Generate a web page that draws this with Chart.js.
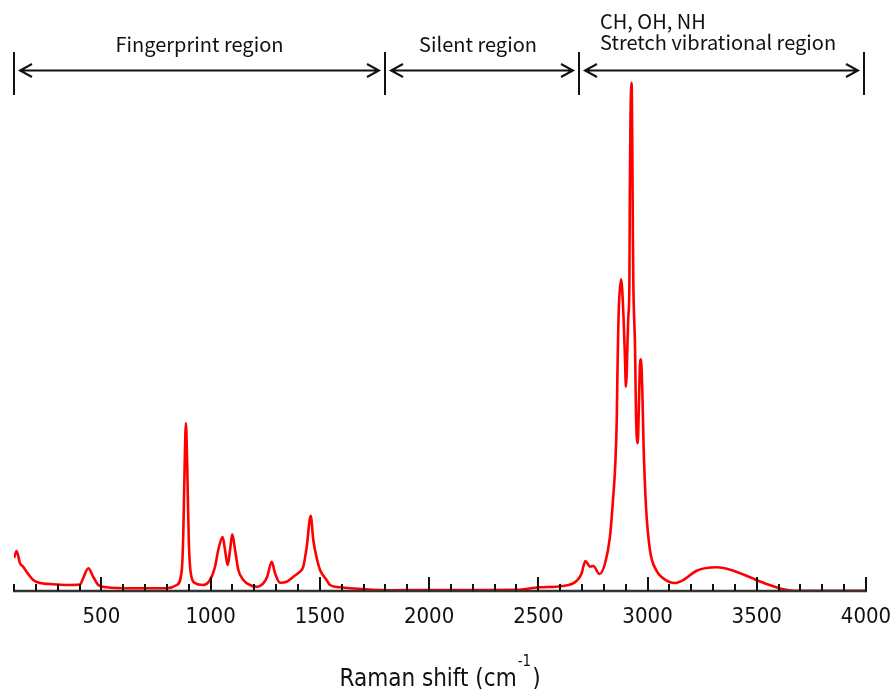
<!DOCTYPE html>
<html>
<head>
<meta charset="utf-8">
<script src="https://cdn.jsdelivr.net/npm/chart.js@4.4.1/dist/chart.umd.min.js"></script>
<style>
  html, body { margin: 0; padding: 0; background: #ffffff; }
  #wrap { width: 892px; height: 689px; position: relative; }
</style>
</head>
<body>
<div id="wrap"><canvas id="c" width="892" height="689"></canvas></div>
<script>
// Raman shift (cm-1) sample positions
const ramanShift = [
  100, 112, 127, 143, 158, 188, 219, 265, 341, 402, 417, 440, 463, 486, 524, 645, 799,
  845, 868, 875, 881, 887, 893, 900, 909, 928, 967, 997, 1020, 1035, 1055, 1066, 1078,
  1089, 1099, 1112, 1127, 1150, 1180, 1211, 1241, 1259, 1280, 1295, 1318, 1348, 1379,
  1409, 1424, 1440, 1458, 1470, 1486, 1501, 1531, 1546, 1592, 1638, 1821, 2000, 2200,
  2400, 2508, 2613, 2676, 2699, 2706, 2716, 2737, 2752, 2780, 2806, 2828, 2843, 2852,
  2859, 2862, 2866, 2870, 2879, 2890, 2897, 2901, 2912, 2917, 2919, 2922, 2927, 2930,
  2933, 2935, 2943, 2947, 2955, 2961, 2965, 2970, 2976, 2982, 2993, 3011, 3042, 3070,
  3100, 3125, 3164, 3225, 3317, 3393, 3469, 3545, 3622, 3666, 3800, 4000
];
// Raman intensity (arbitrary units) at each shift
const intensity = [
  33, 40, 28, 24, 19, 11, 8, 7, 6, 6.5, 13, 22.7, 14, 6, 3.7, 2.7, 2.7,
  6, 21, 58, 124, 168, 124, 51, 18, 8, 6, 11, 24, 41, 54, 41, 26,
  41, 56.7, 41, 21, 11, 6, 4.3, 7.7, 14.3, 29.3, 17.7, 8.3, 9.3, 14.3,
  19.3, 24.3, 44.3, 75.3, 51, 32.7, 21, 11, 6, 3.7, 2.7, 0.8, 1, 1,
  1.2, 3.7, 5, 10.3, 18, 24.3, 30, 24.3, 25, 17, 28, 54.3, 94.3, 125,
  170, 215, 262, 290, 311.7, 274.3, 231, 204.3, 274, 307.7, 401, 474, 508.3, 451,
  354, 307.7, 241, 178, 147.7, 191, 224.3, 231.7, 201, 144.3, 84.3, 41, 20, 13,
  9, 8, 11, 20.3, 23.7, 20.3, 13.7, 7, 1.7, 0.3, 0.3, 0.3
];
// x axis
const xMin = 100, xMax = 4000, tickStep = 100, labelStep = 500;
// region annotation boundaries (cm-1) and labels
const regionBounds = [100, 1800, 2685, 3990];
const regionLabels = [["Fingerprint region"], ["Silent region"], ["CH, OH, NH", "Stretch vibrational region"]];
const axisTitle = "Raman shift (cm";
const axisTitleSup = "-1";
const axisTitleEnd = ")";

const tickFont = "'DejaVu Sans Condensed', 'DejaVu Sans', sans-serif";
const noteFont = "'Noto Sans CJK JP', 'Noto Sans', sans-serif";

const points = ramanShift.map((v, i) => ({ x: v, y: intensity[i] }));

const decorPlugin = {
  id: 'decor',
  afterDraw(chart) {
    const ctx = chart.ctx;
    const xs = chart.scales.x;
    const area = chart.chartArea;
    const yAxis = area.bottom;
    ctx.save();
    // axis line
    ctx.strokeStyle = '#333333';
    ctx.lineWidth = 2.6;
    ctx.beginPath();
    ctx.moveTo(xs.getPixelForValue(xMin) - 1, yAxis);
    ctx.lineTo(xs.getPixelForValue(xMax) + 1, yAxis);
    ctx.stroke();
    // inward tick marks
    ctx.strokeStyle = '#111111';
    ctx.lineWidth = 2;
    xs.ticks.forEach(t => {
      const px = Math.round(xs.getPixelForValue(t.value));
      const len = (t.value % labelStep === 0) ? 14 : 7;
      ctx.beginPath();
      ctx.moveTo(px, yAxis);
      ctx.lineTo(px, yAxis - len);
      ctx.stroke();
    });
    // region annotations
    const yTop = 52, yBot = 95, yArrow = 70.5;
    const bx = regionBounds.map(v => Math.round(xs.getPixelForValue(v)));
    ctx.strokeStyle = '#111111';
    ctx.lineWidth = 2;
    bx.forEach(px => {
      ctx.beginPath();
      ctx.moveTo(px, yTop);
      ctx.lineTo(px, yBot);
      ctx.stroke();
    });
    for (let i = 0; i < bx.length - 1; i++) {
      const a = bx[i] + 6, b = bx[i + 1] - 6;
      ctx.beginPath();
      ctx.moveTo(a, yArrow); ctx.lineTo(b, yArrow);
      ctx.moveTo(a + 12, yArrow - 6.5); ctx.lineTo(a, yArrow); ctx.lineTo(a + 12, yArrow + 6.5);
      ctx.moveTo(b - 12, yArrow - 6.5); ctx.lineTo(b, yArrow); ctx.lineTo(b - 12, yArrow + 6.5);
      ctx.stroke();
    }
    ctx.fillStyle = '#111111';
    ctx.font = "20px " + noteFont;
    ctx.textBaseline = 'alphabetic';
    ctx.textAlign = 'center';
    ctx.fillText(regionLabels[0][0], (bx[0] + bx[1]) / 2, 51.5);
    ctx.fillText(regionLabels[1][0], (bx[1] + bx[2]) / 2 - 4, 51.5);
    ctx.textAlign = 'left';
    ctx.fillText(regionLabels[2][0], bx[2] + 21, 29);
    ctx.fillText(regionLabels[2][1], bx[2] + 21, 49.5);
    // axis title with superscript
    ctx.font = "24px " + tickFont;
    const w1 = ctx.measureText(axisTitle).width;
    const w3 = ctx.measureText(axisTitleEnd).width;
    ctx.font = "15px " + tickFont;
    const w2 = ctx.measureText(axisTitleSup).width;
    const total = w1 + w2 + w3 + 2;
    let x0 = 440 - total / 2;
    ctx.textAlign = 'left';
    ctx.font = "24px " + tickFont;
    ctx.fillText(axisTitle, x0, 686);
    ctx.font = "15px " + tickFont;
    ctx.fillText(axisTitleSup, x0 + w1 + 1, 666);
    ctx.font = "24px " + tickFont;
    ctx.fillText(axisTitleEnd, x0 + w1 + w2 + 2, 686);
    ctx.restore();
  }
};

new Chart(document.getElementById('c'), {
  type: 'line',
  data: {
    datasets: [{
      data: points,
      borderColor: '#ff0000',
      borderWidth: 2.6,
      pointRadius: 0,
      cubicInterpolationMode: 'monotone',
      fill: false
    }]
  },
  options: {
    responsive: false,
    animation: false,
    events: [],
    layout: { padding: { left: 14, right: 26, top: 0, bottom: 0 } },
    plugins: { legend: { display: false }, tooltip: { enabled: false } },
    scales: {
      x: {
        type: 'linear',
        min: xMin,
        max: xMax,
        grid: { display: false, drawTicks: false },
        border: { display: false },
        ticks: {
          stepSize: tickStep,
          autoSkip: false,
          maxRotation: 0,
          padding: 13,
          color: '#111111',
          font: { family: tickFont, size: 22 },
          callback: v => (v % labelStep === 0 ? String(v) : '')
        },
        afterFit: s => { s.paddingLeft = 0; s.paddingRight = 0; s.height = 98; }
      },
      y: {
        display: false,
        min: 0,
        max: 591
      }
    }
  },
  plugins: [decorPlugin]
});
</script>
</body>
</html>
